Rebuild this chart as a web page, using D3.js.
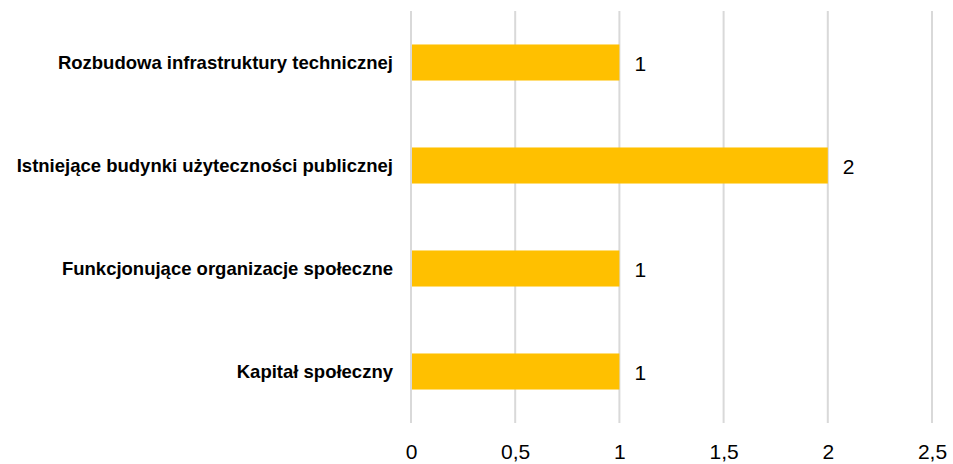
<!DOCTYPE html>
<html>
<head>
<meta charset="utf-8">
<script src="https://cdn.jsdelivr.net/npm/d3@7"></script>
<style>
    body { margin: 0; background: #fff; }
    text { font-family: "Liberation Sans", Arial, sans-serif; }
</style>
</head>
<body>
<script>
let categories = ["Rozbudowa infrastruktury technicznej", "Istniejące budynki użyteczności publicznej",
    "Funkcjonujące organizacje społeczne", "Kapitał społeczny"];
let values = [1, 2, 1, 1];
let tickValues = [0, 0.5, 1, 1.5, 2, 2.5];
let tickLabels = ["0", "0,5", "1", "1,5", "2", "2,5"];

let svgWidth = 953,
    svgHeight = 464,
    margin = {
        top: 11,
        right: 21,
        bottom: 41,
        left: 411
    },
    plotWidth = svgWidth - margin.left - margin.right,
    plotHeight = svgHeight - margin.top - margin.bottom;

let svg = d3.select("body").append("svg")
    .attr("width", svgWidth)
    .attr("height", svgHeight);

let g = svg.append("g")
    .attr("transform", "translate(" + margin.left + "," + margin.top + ")");

let xScale = d3.scaleLinear().domain([0, 2.5]).range([0, plotWidth]);
let yScale = d3.scaleBand().domain(categories).range([0, plotHeight]).paddingInner(0.65).paddingOuter(0.325);

// gridlines
g.selectAll(".grid")
    .data(tickValues)
    .enter().append("line")
    .attr("x1", d => xScale(d))
    .attr("x2", d => xScale(d))
    .attr("y1", 0)
    .attr("y2", plotHeight)
    .style("stroke", "#d9d9d9")
    .style("stroke-width", 2);

// bars
g.selectAll(".bar")
    .data(values)
    .enter().append("rect")
    .attr("x", xScale(0) + 1)
    .attr("y", (d, i) => yScale(categories[i]))
    .attr("width", d => xScale(d) - xScale(0) - 1)
    .attr("height", yScale.bandwidth())
    .style("fill", "#ffc000");

// value labels
g.selectAll(".val")
    .data(values)
    .enter().append("text")
    .attr("x", d => xScale(d) + 15)
    .attr("y", (d, i) => yScale(categories[i]) + yScale.bandwidth() / 2 + 1)
    .attr("dy", "0.35em")
    .style("font-size", "21px")
    .style("fill", "#000")
    .text(d => d);

// category labels
let yAxis = d3.axisLeft(yScale).tickSize(0).tickPadding(18);
g.append("g")
    .call(yAxis)
    .call(a => a.select(".domain").remove())
    .selectAll("text")
    .attr("dy", "0.36em")
    .style("font-size", "18.5px")
    .style("font-weight", "bold")
    .style("fill", "#000");

// x axis
let xAxis = d3.axisBottom(xScale)
    .tickValues(tickValues)
    .tickFormat((d, i) => tickLabels[i])
    .tickSize(0)
    .tickPadding(21);
g.append("g")
    .attr("transform", "translate(0," + plotHeight + ")")
    .call(xAxis)
    .call(a => a.select(".domain").remove())
    .selectAll("text")
    .style("font-size", "21px")
    .style("fill", "#000");
</script>
</body>
</html>
